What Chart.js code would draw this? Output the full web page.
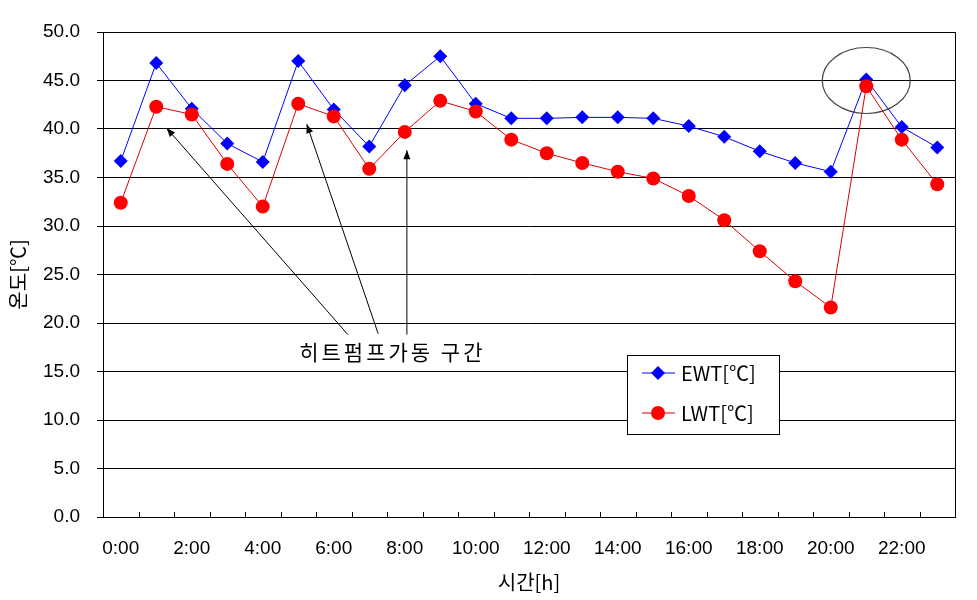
<!DOCTYPE html>
<html>
<head>
<meta charset="utf-8">
<script src="https://cdn.jsdelivr.net/npm/chart.js@4"></script>
<style>
  html, body { margin: 0; padding: 0; background: #fff; }
  #wrap { width: 977px; height: 600px; }
</style>
</head>
<body>
<div id="wrap"><canvas id="chart"></canvas></div>
<script>
// hourly water temperatures
var hours = ['0:00','1:00','2:00','3:00','4:00','5:00','6:00','7:00','8:00','9:00','10:00','11:00',
             '12:00','13:00','14:00','15:00','16:00','17:00','18:00','19:00','20:00','21:00','22:00','23:00'];
var ewt = [36.7, 46.8, 42.1, 38.5, 36.6, 47.0, 42.0, 38.2, 44.5, 47.5, 42.6, 41.1,
           41.1, 41.2, 41.2, 41.1, 40.3, 39.2, 37.7, 36.5, 35.6, 45.1, 40.2, 38.1];
var lwt = [32.4, 42.3, 41.5, 36.4, 32.0, 42.6, 41.3, 35.9, 39.7, 42.9, 41.8, 38.9,
           37.5, 36.5, 35.6, 34.9, 33.1, 30.6, 27.4, 24.3, 21.6, 44.4, 38.9, 34.3];
var yMin = 0, yMax = 50, yStep = 5;

var numFont = 'Liberation Sans, Arial, Noto Sans CJK KR, sans-serif';
var krFont = 'Noto Sans CJK KR, Liberation Sans, sans-serif';

function arrow(ctx, x1, y1, x2, y2) {
    ctx.beginPath();
    ctx.moveTo(x1, y1);
    ctx.lineTo(x2, y2);
    ctx.stroke();
    var a = Math.atan2(y2 - y1, x2 - x1);
    var len = 9, w = 3.5;
    ctx.beginPath();
    ctx.moveTo(x2, y2);
    ctx.lineTo(x2 - len * Math.cos(a) + w * Math.sin(a), y2 - len * Math.sin(a) - w * Math.cos(a));
    ctx.lineTo(x2 - len * Math.cos(a) - w * Math.sin(a), y2 - len * Math.sin(a) + w * Math.cos(a));
    ctx.closePath();
    ctx.fill();
}

// border, inner ticks, notes and legend box
var extras = {
    id: 'extras',
    afterDraw(chart) {
        var ctx = chart.ctx, a = chart.chartArea;
        var x = chart.scales.x, y = chart.scales.y;
        var px = i => x.getPixelForValue(0) + i * (x.getPixelForValue(1) - x.getPixelForValue(0));
        ctx.save();
        ctx.strokeStyle = '#000';
        ctx.fillStyle = '#000';
        ctx.lineWidth = 1;
        ctx.strokeRect(Math.round(a.left) + 0.5, Math.round(a.top) + 0.5,
                       Math.round(a.right - a.left), Math.round(a.bottom - a.top));
        // ticks between hours, pointing up
        for (var i = 1; i < hours.length; i++) {
            var tx = Math.round(px(i - 0.5)) + 0.5;
            ctx.beginPath();
            ctx.moveTo(tx, a.bottom);
            ctx.lineTo(tx, a.bottom - 5);
            ctx.stroke();
        }
        // arrows to the heat pump run periods
        arrow(ctx, px(6.4), y.getPixelForValue(18.8), px(1.29), y.getPixelForValue(40.1));
        arrow(ctx, px(7.25), y.getPixelForValue(18.9), px(5.24), y.getPixelForValue(40.5));
        arrow(ctx, px(8.06), y.getPixelForValue(18.8), px(8.06), y.getPixelForValue(37.8));
        ctx.font = '21px ' + krFont;
        ctx.letterSpacing = '3px';
        ctx.textAlign = 'center';
        ctx.textBaseline = 'middle';
        ctx.fillText('히트펌프가동 구간', px(7.65), y.getPixelForValue(17.0));
        ctx.letterSpacing = '0px';
        // ellipse round the 21:00 peak
        ctx.strokeStyle = '#444';
        ctx.lineWidth = 1.2;
        ctx.beginPath();
        ctx.ellipse(px(21), y.getPixelForValue(45), 44, 33, 0, 0, Math.PI * 2);
        ctx.stroke();
        // legend
        var lx = a.left + 524, ly = a.top + 323, lw = 152, lh = 79;
        ctx.fillStyle = '#fff';
        ctx.fillRect(lx, ly, lw, lh);
        ctx.strokeStyle = '#000';
        ctx.lineWidth = 1;
        ctx.strokeRect(Math.round(lx) + 0.5, Math.round(ly) + 0.5, lw, lh);
        chart.data.datasets.slice().reverse().forEach(function (ds, k) {
            var ey = ly + 18 + k * 40;
            ctx.strokeStyle = ds.borderColor;
            ctx.beginPath();
            ctx.moveTo(lx + 15, ey);
            ctx.lineTo(lx + 48, ey);
            ctx.stroke();
            ctx.fillStyle = ds.pointBackgroundColor;
            ctx.beginPath();
            if (ds.pointStyle === 'circle') {
                ctx.arc(lx + 31, ey, ds.pointRadius, 0, Math.PI * 2);
            } else {
                var r = ds.pointRadius;
                ctx.moveTo(lx + 31, ey - r); ctx.lineTo(lx + 31 + r, ey);
                ctx.lineTo(lx + 31, ey + r); ctx.lineTo(lx + 31 - r, ey);
                ctx.closePath();
            }
            ctx.fill();
            ctx.fillStyle = '#000';
            ctx.font = '20px ' + krFont;
            ctx.textAlign = 'left';
            ctx.textBaseline = 'middle';
            ctx.fillText(ds.label, lx + 54, ey);
        });
        ctx.restore();
    }
};

var ctx = document.getElementById('chart').getContext('2d');
var chart = new Chart(ctx, {
    type: 'line',
    data: {
        labels: hours,
        datasets: [{
            label: 'LWT[℃]',
            data: lwt,
            order: 0,
            borderColor: '#dd0000',
            borderWidth: 1,
            pointStyle: 'circle',
            pointRadius: 7,
            pointBackgroundColor: '#ff0000',
            pointBorderColor: '#ff0000',
            pointBorderWidth: 0,
            tension: 0
        }, {
            label: 'EWT[℃]',
            data: ewt,
            order: 1,
            borderColor: '#0000ff',
            borderWidth: 1,
            pointStyle: 'rectRot',
            pointRadius: 7,
            pointBackgroundColor: '#0000ff',
            pointBorderColor: '#0000ff',
            pointBorderWidth: 0,
            tension: 0
        }]
    },
    options: {
        responsive: true,
        maintainAspectRatio: false,
        animation: false,
        events: [],
        layout: { padding: { top: 32, right: 22, bottom: 0, left: 0 } },
        plugins: { legend: { display: false }, tooltip: { enabled: false } },
        scales: {
            x: {
                type: 'category',
                offset: true,
                afterFit: s => { s.height = 83; },
                grid: { display: false, drawTicks: false },
                border: { display: true, color: '#000', width: 1 },
                ticks: {
                    autoSkip: false,
                    maxRotation: 0,
                    padding: 20,
                    color: '#000',
                    font: { family: numFont, size: 19 },
                    callback: function (v, i) { return i % 2 === 0 ? this.getLabelForValue(v) : ''; }
                },
                title: {
                    display: true,
                    text: '시간[h]',
                    color: '#000',
                    font: { family: krFont, size: 20 },
                    padding: { top: 0, bottom: 6 }
                }
            },
            y: {
                min: yMin,
                max: yMax,
                afterFit: s => { s.width = 103; },
                grid: { color: '#000', lineWidth: 1, tickColor: '#000', tickLength: 6 },
                border: { display: true, color: '#000', width: 1 },
                ticks: {
                    stepSize: yStep,
                    padding: 17,
                    color: '#000',
                    font: { family: numFont, size: 19 },
                    callback: v => v.toFixed(1)
                },
                title: {
                    display: true,
                    text: '온도[℃]',
                    color: '#000',
                    font: { family: krFont, size: 20 },
                    padding: { top: 6, bottom: 0 }
                }
            }
        }
    },
    plugins: [extras]
});
</script>
</body>
</html>
